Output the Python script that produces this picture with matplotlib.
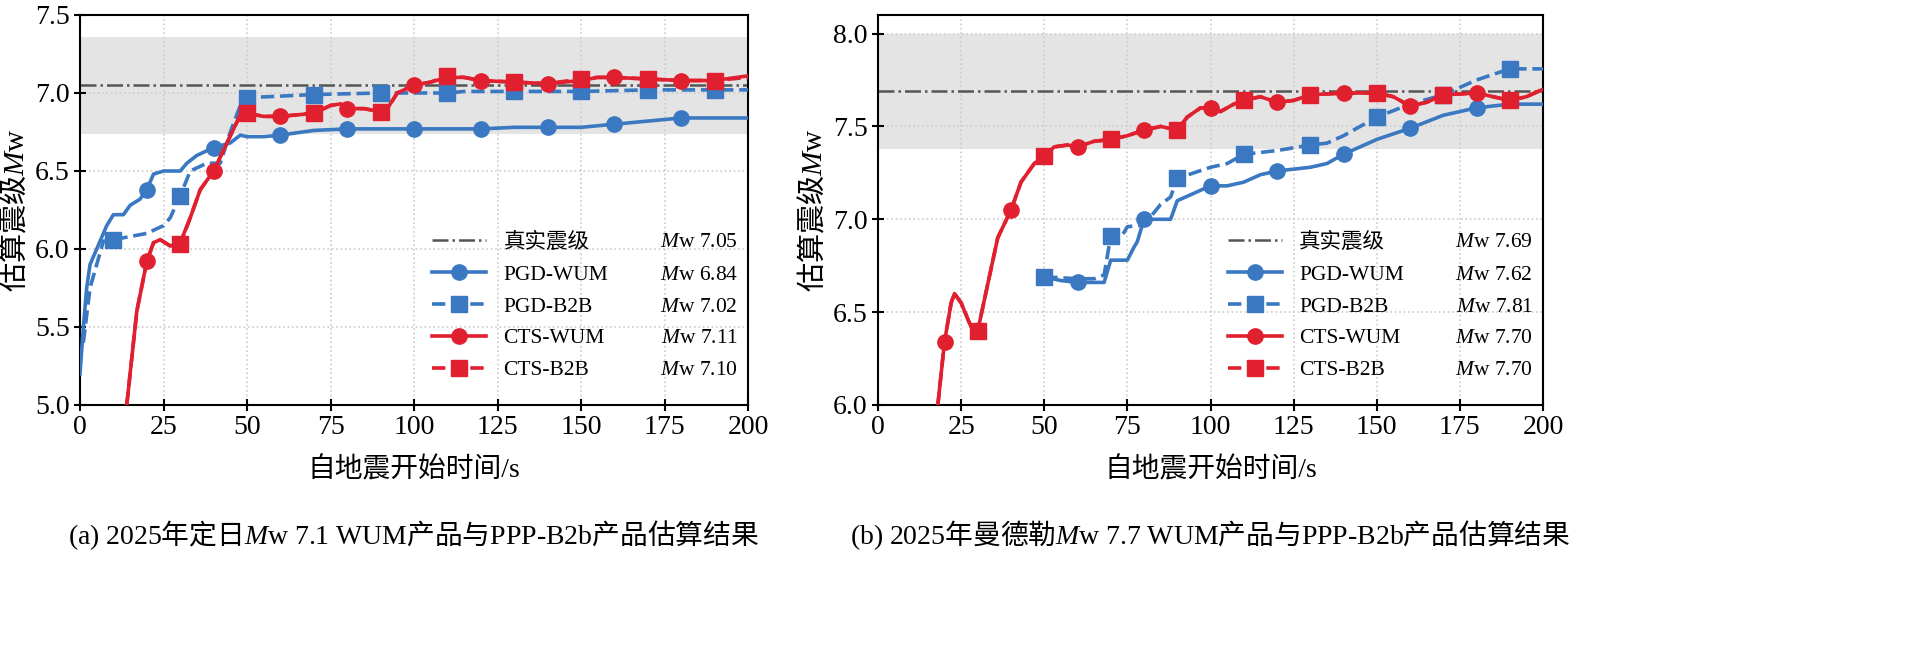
import numpy as np
import matplotlib
matplotlib.use("Agg")
import matplotlib.pyplot as plt

plt.rcParams['font.family'] = ['Liberation Serif', 'Noto Sans CJK SC']
plt.rcParams['mathtext.fontset'] = 'custom'
plt.rcParams['mathtext.rm'] = 'Noto Sans CJK SC'
plt.rcParams['mathtext.sf'] = 'Liberation Serif'
plt.rcParams['mathtext.it'] = 'Liberation Serif:italic'

# ---- Data: (a) Dingri Mw 7.1 ----
a_true = 7.05
a_unc = 0.31
a_pw_t = [0,1,2,3,5,7,8,10,13,15,18,20,22,25,30,32,35,40,45,48,50,55,60,70,80,100,120,130,140,150,160,170,180,200]
a_pw_v = [5.2,5.5,5.75,5.9,6.0,6.1,6.15,6.22,6.22,6.28,6.32,6.38,6.48,6.5,6.5,6.55,6.6,6.65,6.68,6.73,6.72,6.72,6.73,6.76,6.77,6.77,6.77,6.78,6.78,6.78,6.8,6.82,6.84,6.84]
a_pb_t = [1,3,5,7,10,15,20,25,27,30,33,38,42,45,48,50,60,70,90,110,115,130,150,170,190,200]
a_pb_v = [5.4,5.75,5.9,6.05,6.06,6.08,6.1,6.15,6.2,6.34,6.5,6.55,6.55,6.75,6.92,6.97,6.98,6.99,7.0,7.0,7.01,7.01,7.01,7.02,7.02,7.02]
a_cw_t = [14,17,20,22,24,27,30,33,36,40,44,48,50,55,60,65,70,75,78,80,85,90,92,95,100,105,110,115,120,130,140,150,155,160,170,180,190,200]
a_cw_v = [5.0,5.6,5.92,6.04,6.06,6.02,6.04,6.2,6.38,6.5,6.68,6.86,6.87,6.85,6.85,6.86,6.87,6.92,6.93,6.9,6.9,6.88,6.9,7.0,7.05,7.07,7.1,7.1,7.08,7.07,7.06,7.08,7.1,7.1,7.09,7.08,7.08,7.11]
a_cb_t = a_cw_t
a_cb_v = [5.0,5.6,5.92,6.04,6.06,6.02,6.03,6.2,6.38,6.5,6.68,6.86,6.87,6.85,6.85,6.86,6.87,6.92,6.93,6.9,6.9,6.88,6.9,7.0,7.05,7.07,7.11,7.1,7.08,7.07,7.06,7.09,7.1,7.1,7.09,7.08,7.08,7.10]
a_final = [7.05, 6.84, 7.02, 7.11, 7.10]

# ---- Data: (b) Mandalay Mw 7.7 ----
b_true = 7.69
b_unc = 0.31
b_pw_t = [50,55,60,65,68,70,75,77,78,80,85,88,90,95,100,105,110,115,120,130,135,140,150,160,170,180,190,200]
b_pw_v = [6.69,6.67,6.66,6.66,6.66,6.78,6.78,6.85,6.88,7.0,7.0,7.0,7.1,7.14,7.18,7.18,7.2,7.24,7.26,7.28,7.3,7.35,7.43,7.49,7.56,7.6,7.62,7.62]
b_pb_t = [50,60,65,68,70,73,75,80,85,88,90,95,100,105,110,115,120,130,135,140,150,160,170,180,190,200]
b_pb_v = [6.69,6.68,6.68,6.7,6.91,6.9,6.96,6.97,7.08,7.12,7.22,7.25,7.28,7.3,7.35,7.36,7.37,7.4,7.41,7.45,7.55,7.62,7.67,7.75,7.81,7.81]
b_cw_t = [18,20,22,23,25,28,30,33,36,40,43,47,50,53,57,60,65,70,75,80,85,90,93,97,100,103,107,110,115,120,125,130,140,150,155,160,165,170,180,190,195,200]
b_cw_v = [6.0,6.34,6.55,6.6,6.55,6.42,6.4,6.65,6.9,7.05,7.2,7.3,7.34,7.39,7.4,7.39,7.42,7.43,7.45,7.48,7.5,7.48,7.55,7.6,7.6,7.58,7.62,7.64,7.66,7.63,7.64,7.67,7.68,7.68,7.66,7.61,7.63,7.67,7.68,7.64,7.66,7.7]
b_cb_t = b_cw_t
b_cb_v = b_cw_v
b_final = [7.69, 7.62, 7.81, 7.70, 7.70]

names = ['真实震级', 'PGD-WUM', 'PGD-B2B', 'CTS-WUM', 'CTS-B2B']
even_marks = [20,40,60,80,100,120,140,160,180]
odd_marks = [10,30,50,70,90,110,130,150,170,190]

BLUE = '#3a78c2'
RED = '#e0202e'

fig = plt.figure(figsize=(19.26, 6.62), dpi=100)
W, H = 1926, 662
ax1 = fig.add_axes([80/W, 1-405/H, 668/W, 390/H])
ax2 = fig.add_axes([878/W, 1-405/H, 665/W, 390/H])

def idx(t, marks):
    return [i for i, x in enumerate(t) if x in marks]

def panel(ax, true, unc, series, finals, ylim, yticks, caption):
    ax.axhspan(true-unc, true+unc, color='#e4e4e4', zorder=0, lw=0)
    h0, = ax.plot([0, 200], [true, true], color='#555555', ls='-.', lw=1.8, zorder=2)
    handles = [h0]
    styles = [(BLUE, '-', 'o', even_marks), (BLUE, '--', 's', odd_marks),
              (RED, '-', 'o', even_marks), (RED, '--', 's', odd_marks)]
    for (t, v), (c, ls, m, mk) in zip(series, styles):
        h, = ax.plot(t, v, color=c, ls=ls, lw=2.6, marker=m, ms=11,
                     markevery=idx(t, mk), zorder=3)
        handles.append(h)
    ax.set_xlim(0, 200)
    ax.set_ylim(*ylim)
    ax.set_xticks(np.arange(0, 201, 25))
    ax.set_yticks(yticks)
    ax.set_yticklabels([f'{y:.1f}' for y in yticks])
    ax.grid(True, ls=':', color='#cccccc', lw=1.2)
    ax.set_axisbelow(True)
    ax.tick_params(direction='inout', labelsize=20, length=8, width=1.5)
    for s in ax.spines.values():
        s.set_linewidth(1.5)
    ax.set_xlabel('自地震开始时间/s', fontsize=20, labelpad=12)
    ax.set_ylabel(r'$\mathrm{估算震级}M\mathsf{w}$', fontsize=21)
    leg = ax.legend(handles, names, loc='lower right',
                    bbox_to_anchor=(0.81, 0.03), frameon=False,
                    handlelength=2.5, borderaxespad=0.2, labelspacing=0.55,
                    prop={'size': 15.5})
    fig.canvas.draw()
    inv = ax.transAxes.inverted()
    for txt, val in zip(leg.get_texts(), finals):
        bb = txt.get_window_extent()
        yc = inv.transform(((bb.x0+bb.x1)/2, (bb.y0+bb.y1)/2))[1]
        ax.text(0.985, yc, f'$M$w {val:.2f}', transform=ax.transAxes,
                ha='right', va='center', fontsize=15.5)
    ax.text(0.5, -0.29, caption, transform=ax.transAxes, ha='center',
            va='top', fontsize=20)

panel(ax1, a_true, a_unc,
      [(a_pw_t, a_pw_v), (a_pb_t, a_pb_v), (a_cw_t, a_cw_v), (a_cb_t, a_cb_v)],
      a_final, (5.0, 7.5), np.arange(5.0, 7.51, 0.5),
      r'$\mathsf{(a)\ 2025}\mathrm{年定日}M\mathsf{w\ 7.1\ WUM}\mathrm{产品与}\mathsf{PPP}$-$\mathsf{B2b}\mathrm{产品估算结果}$')
panel(ax2, b_true, b_unc,
      [(b_pw_t, b_pw_v), (b_pb_t, b_pb_v), (b_cw_t, b_cw_v), (b_cb_t, b_cb_v)],
      b_final, (6.0, 8.1), np.arange(6.0, 8.01, 0.5),
      r'$\mathsf{(b)\ 2025}\mathrm{年曼德勒}M\mathsf{w\ 7.7\ WUM}\mathrm{产品与}\mathsf{PPP}$-$\mathsf{B2b}\mathrm{产品估算结果}$')

fig.savefig('out.png', dpi=100)
